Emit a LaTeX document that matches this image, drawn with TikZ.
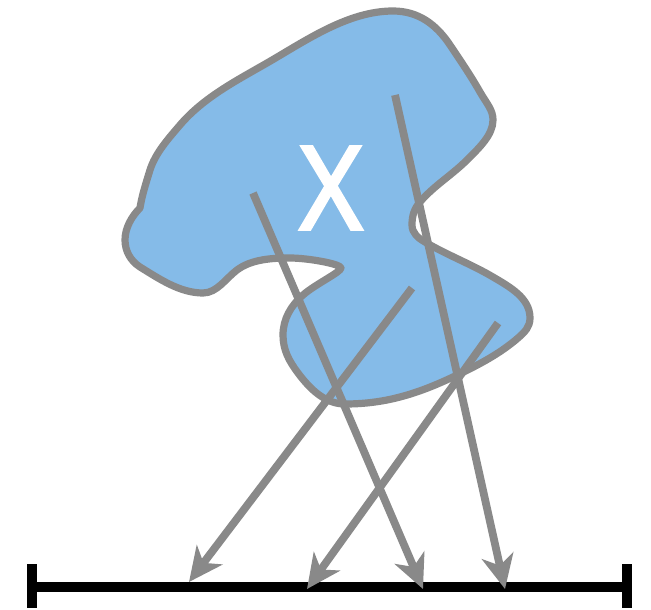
\documentclass[tikz,border=0pt]{standalone}
\usepackage{fontspec}
\setmainfont{Open Sans}
\newfontfamily\xfont{Open Sans}[FakeBold=3]
\usetikzlibrary{arrows.meta}
\definecolor{blobfill}{RGB}{133,187,232}
\definecolor{linegray}{RGB}{137,137,137}
\tikzset{
  blob/.style={draw=linegray, fill=blobfill, line width=7.2pt, line join=round},
  ray/.style={draw=linegray, line width=7.8pt, -{Stealth[length=34pt, width=32pt, inset=10pt]}},
  axis/.style={draw=black, line width=10pt},
}
\begin{document}
\begin{tikzpicture}[x=1pt, y=-1pt]
\useasboundingbox (0,0) rectangle (651,610);
% blob
\path[blob] (393,11)
 .. controls (418,11) and (436,24) .. (450,45)
 .. controls (460,60) and (471,76) .. (480,92)
 .. controls (487,104) and (493,110) .. (493,120)
 .. controls (493,135) and (479,148) .. (467,160)
 .. controls (452,175) and (433.6,186) .. (420,202)
 .. controls (414,209) and (412,216) .. (412,225)
 .. controls (412,233) and (418,238) .. (425,242)
 .. controls (446,254.5) and (472,264.5) .. (493,277)
 .. controls (510,287) and (530,298) .. (530,318)
 .. controls (530,327) and (524.8,332) .. (518,338)
 .. controls (499,354.5) and (475.5,366.5) .. (453,377)
 .. controls (417,394) and (385,404) .. (345,404)
 .. controls (325,404) and (310,389) .. (298,373)
 .. controls (289,361) and (283,350) .. (283,335)
 .. controls (283,319) and (291,305.5) .. (303,295)
 .. controls (315,284.4) and (341,272) .. (341,268)
 .. controls (341,264) and (308,258) .. (290,258)
 .. controls (272,258) and (251.4,259.2) .. (237,270)
 .. controls (225.8,278.4) and (217,293) .. (203,293)
 .. controls (180,293) and (159.5,279) .. (140,267)
 .. controls (130.6,261) and (125,251) .. (125,240)
 .. controls (125,228) and (131.6,216.4) .. (140,208)
 .. controls (141.8,196) and (146,183) .. (150,170)
 .. controls (155.4,153) and (168.3,138.7) .. (180,125)
 .. controls (203.4,97.6) and (235.7,81) .. (267,63)
 .. controls (306,40.5) and (348,11) .. (393,11) -- cycle;
\node[text=white, font=\xfont\fontsize{115}{115}\selectfont, inner sep=0pt, xscale=0.93] (X) at (331,188) {X};
% axis
\coordinate (L) at (32,587);
\coordinate (R) at (627,587);
\coordinate (Lt) at (32,564);
\coordinate (Lb) at (32,608);
\coordinate (Rt) at (627,564);
\coordinate (Rb) at (627,608);
\draw[axis] (L) -- (R);
\draw[axis] (Lt) -- (Lb);
\draw[axis] (Rt) -- (Rb);
% rays
\coordinate (s1) at (253,193);
\coordinate (e1) at (423,589);
\coordinate (s2) at (395,95);
\coordinate (e2) at (505,589);
\coordinate (s3) at (412,288);
\coordinate (e3) at (189,582);
\coordinate (s4) at (498,323);
\coordinate (e4) at (307,589);
\draw[ray] (s1) -- (e1);
\draw[ray] (s2) -- (e2);
\draw[ray] (s3) -- (e3);
\draw[ray] (s4) -- (e4);
\end{tikzpicture}
\end{document}
